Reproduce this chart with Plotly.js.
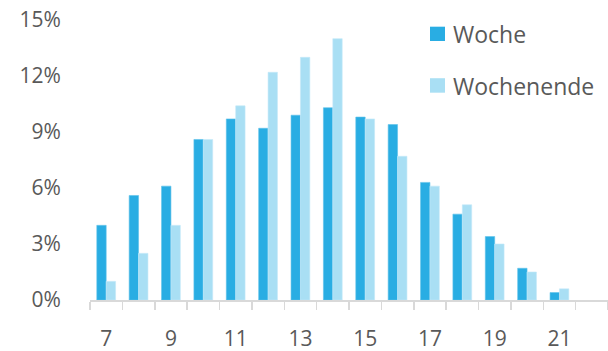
<!DOCTYPE html>
<html>
<head>
<meta charset="utf-8">
<script src="https://cdn.plot.ly/plotly-3.0.1.min.js"></script>
<style>
  html, body { margin: 0; padding: 0; background: #fff; }
  #chart { width: 608px; height: 351px; }
</style>
</head>
<body>
<div id="chart"></div>
<script>
// Hour of day
const hours = [7, 8, 9, 10, 11, 12, 13, 14, 15, 16, 17, 18, 19, 20, 21];
// Share per hour (%)
const woche      = [4.0, 5.6, 6.1, 8.6, 9.7, 9.2, 9.9, 10.3, 9.8, 9.4, 6.3, 4.6, 3.4, 1.7, 0.4];
const wochenende = [1.0, 2.5, 4.0, 8.6, 10.4, 12.2, 13.0, 14.0, 9.7, 7.7, 6.1, 5.1, 3.0, 1.5, 0.6];
const seriesNames = ['Woche', 'Wochenende'];
const seriesColors = ['#29ade3', '#a9dff4'];
const xTickVals = [7, 9, 11, 13, 15, 17, 19, 21];
const yTickVals = [0, 3, 6, 9, 12, 15];
const yTickText = yTickVals.map(v => v + '%');
const boundaryTicks = [];
for (let b = 6.5; b <= 22.5; b += 1) boundaryTicks.push(b);

const font = { family: 'Open Sans, sans-serif', size: 21, color: '#595959' };
const legendFont = { family: 'Open Sans, sans-serif', size: 23, color: '#595959' };

const traces = [
  {
    type: 'bar', name: seriesNames[0], x: hours, y: woche,
    marker: { color: seriesColors[0], line: { color: '#5cc1ea', width: 0.6 } },
    hoverinfo: 'skip'
  },
  {
    type: 'bar', name: seriesNames[1], x: hours, y: wochenende,
    marker: { color: seriesColors[1], line: { color: '#c4e9f8', width: 0.6 } },
    hoverinfo: 'skip'
  },
  // invisible helper that carries the boundary tick axis
  {
    type: 'scatter', x: [6.5], y: [0], xaxis: 'x2', mode: 'markers',
    marker: { opacity: 0 }, hoverinfo: 'skip'
  }
];

// Legend drawn as square swatches plus text labels
const legendRows = [
  { sq: [0.9761, 0.925], ty: 0.95 },
  { sq: [0.7921, 0.7404], ty: 0.764 }
];
const shapes = legendRows.map((r, i) => ({
  type: 'rect', xref: 'paper', yref: 'paper',
  x0: 0.6564, x1: 0.6853, y0: r.sq[1], y1: r.sq[0],
  fillcolor: seriesColors[i], line: { width: 0 }
}));
const annotations = legendRows.map((r, i) => ({
  xref: 'paper', yref: 'paper', x: 0.6965, y: r.ty,
  xanchor: 'left', yanchor: 'middle', showarrow: false,
  text: seriesNames[i], font: legendFont
}));

const layout = {
  width: 608, height: 351,
  margin: { l: 90, r: 0, t: 20, b: 51 },
  paper_bgcolor: '#fff', plot_bgcolor: '#fff',
  font: font,
  barmode: 'group',
  bargap: 0.42,
  bargroupgap: 0,
  showlegend: false,
  shapes: shapes,
  annotations: annotations,
  xaxis: {
    range: [6.5, 22.5], tickmode: 'array', tickvals: xTickVals,
    ticks: 'outside', ticklen: 20, tickcolor: 'rgba(0,0,0,0)',
    showgrid: false, zeroline: false, showline: false,
    tickfont: font
  },
  xaxis2: {
    overlaying: 'x', anchor: 'y', side: 'bottom',
    range: [6.5, 22.5], tickmode: 'array', tickvals: boundaryTicks,
    showticklabels: false, ticks: 'outside', ticklen: 8, tickwidth: 1.5,
    tickcolor: '#d9d9d9', showline: true, linecolor: '#d9d9d9', linewidth: 1.5,
    showgrid: false, zeroline: false
  },
  yaxis: {
    range: [0, 15], tickmode: 'array', tickvals: yTickVals, ticktext: yTickText,
    ticks: 'outside', ticklen: 24, tickcolor: 'rgba(0,0,0,0)',
    showgrid: false, zeroline: false, showline: false,
    tickfont: font
  }
};

Plotly.newPlot('chart', traces, layout, { displayModeBar: false, staticPlot: true });
</script>
</body>
</html>
